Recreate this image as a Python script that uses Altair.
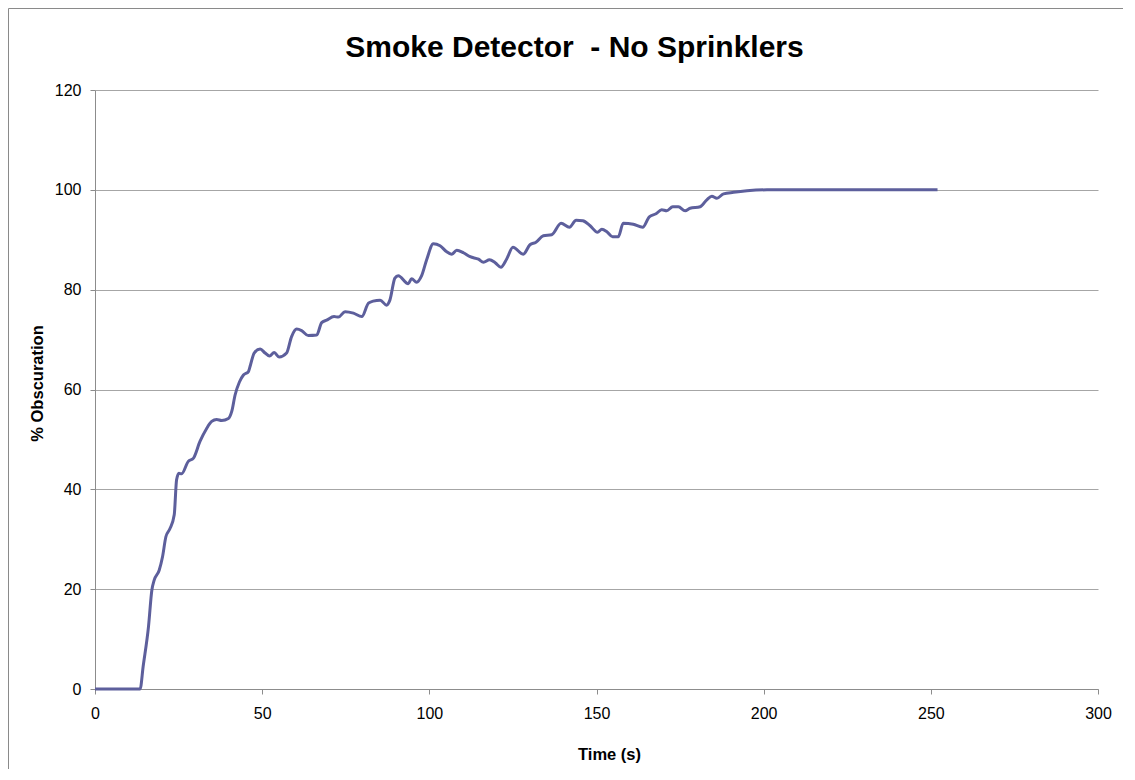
import altair as alt
import pandas as pd

time_s = [0, 5, 10, 13, 13.5, 14.4, 16, 17, 17.7, 19.2, 20.2, 21.2, 22.4, 23.7, 24.4,
          25.1, 25.9, 27.9, 29.4, 31.4, 33.4, 34.9, 36.4, 37.9, 39.9, 40.9, 41.9, 43.2,
          44.4, 45.9, 46.5, 47.6, 49.4, 50.9, 52.2, 53.6, 55.1, 57.3, 58.8, 60.3, 61.8,
          63.8, 66.3, 67.8, 69.3, 71.5, 72.8, 74.8, 77.3, 79.8, 81.8, 83.2, 85.3, 87.2,
          88.2, 89.7, 90.7, 93.7, 94.7, 96.2, 97.7, 99.2, 101.2, 103.2, 105.2, 106.7,
          108.2, 110.2, 112.2, 114.7, 116.2, 118.0, 119.7, 121.4, 123.1, 125.0, 128.1,
          130.1, 131.9, 134.1, 136.6, 139.4, 141.9, 143.9, 145.9, 148.1, 150.3, 151.6,
          153.1, 154.8, 156.5, 158.0, 161.0, 163.8, 165.8, 167.8, 169.5, 171.0, 172.8,
          174.5, 176.5, 178.0, 181.0, 183.0, 184.5, 186.0, 188.0, 191.0, 195.0, 201.0,
          210.0, 230.0, 252.0]
obscuration = [0, 0, 0, 0, 0, 4.5, 12.5, 19.8, 21.8, 23.8, 26.5, 30.5, 32.1, 34.9, 41.9,
               43.2, 43.1, 45.6, 46.2, 49.6, 52.2, 53.6, 54.0, 53.8, 54.2, 55.6, 58.9, 61.5,
               62.9, 63.6, 64.9, 67.3, 68.1, 67.3, 66.7, 67.4, 66.5, 67.3, 70.6, 72.1, 71.8,
               70.8, 70.9, 73.4, 73.9, 74.6, 74.5, 75.6, 75.3, 74.6, 77.3, 77.7, 77.9, 76.9,
               77.9, 82.3, 82.8, 81.2, 82.2, 81.5, 82.8, 86.0, 89.2, 88.8, 87.6, 87.1,
               87.9, 87.4, 86.6, 86.1, 85.5, 86.0, 85.4, 84.5, 86.1, 88.5, 87.1,
               89.0, 89.5, 90.8, 91.0, 93.3, 92.5, 93.9, 93.8, 92.8, 91.5, 92.1,
               91.6, 90.6, 90.6, 93.3, 93.1, 92.5, 94.6, 95.2, 96.0, 95.8, 96.6,
               96.6, 95.8, 96.3, 96.6, 98.0, 98.7, 98.3, 99.2, 99.5, 99.8, 100.0,
               100.0, 100.0, 100.0]

# second space is a no-break space so the SVG keeps the double gap
chart_title = ["Smoke Detector\u00a0 - No Sprinklers"]

df = pd.DataFrame({"t": time_s, "v": obscuration})

FONT = "Liberation Sans"
GRAY = "#8c8c8c"

one = pd.DataFrame({"label": chart_title})

border = alt.Chart(one).mark_rect(
    fillOpacity=0, stroke="#8a8a8a", strokeWidth=1
).encode(
    x=alt.value(-86.5), x2=alt.value(1300),
    y=alt.value(-81.5), y2=alt.value(900)
)

title = alt.Chart(one).mark_text(
    font=FONT, fontSize=30, fontWeight="bold", color="black",
    align="center", baseline="alphabetic"
).encode(
    text="label:N", x=alt.value(479.5), y=alt.value(-33)
)

line = alt.Chart(df).mark_line(
    color="#5D5F9C", strokeWidth=3, interpolate="monotone"
).encode(
    x=alt.X("t:Q", scale=alt.Scale(domain=[0, 300], nice=False),
            axis=alt.Axis(values=[0, 50, 100, 150, 200, 250, 300], grid=False,
                          title="Time (s)", titleX=514, titleY=70,
                          titleBaseline="alphabetic", titleAnchor="start",
                          titleAlign="center", labelPadding=11, labelFlush=False)),
    y=alt.Y("v:Q", scale=alt.Scale(domain=[0, 120], nice=False),
            axis=alt.Axis(values=[0, 20, 40, 60, 80, 100, 120], grid=True,
                          title="% Obscuration", titleX=-53, titleY=293,
                          titleBaseline="alphabetic", titleAlign="center",
                          titleAngle=-90, labelPadding=9, labelFlush=False)),
)

chart = alt.layer(border, line, title).properties(
    width=1003, height=599,
    padding={"left": 87, "top": 82, "right": 25, "bottom": 80},
    autosize=alt.AutoSizeParams(type="none"),
    background="white",
).configure_view(stroke=None).configure_axis(
    labelFont=FONT, labelFontSize=16, labelColor="black",
    titleFont=FONT, titleFontSize=16.5, titleFontWeight="bold", titleColor="black",
    domainColor=GRAY, tickColor=GRAY, gridColor="#a6a6a6", tickSize=5,
    domainWidth=1, gridWidth=1, tickWidth=1,
)

chart.save("out.html", embed_options={"renderer": "svg", "actions": False})
